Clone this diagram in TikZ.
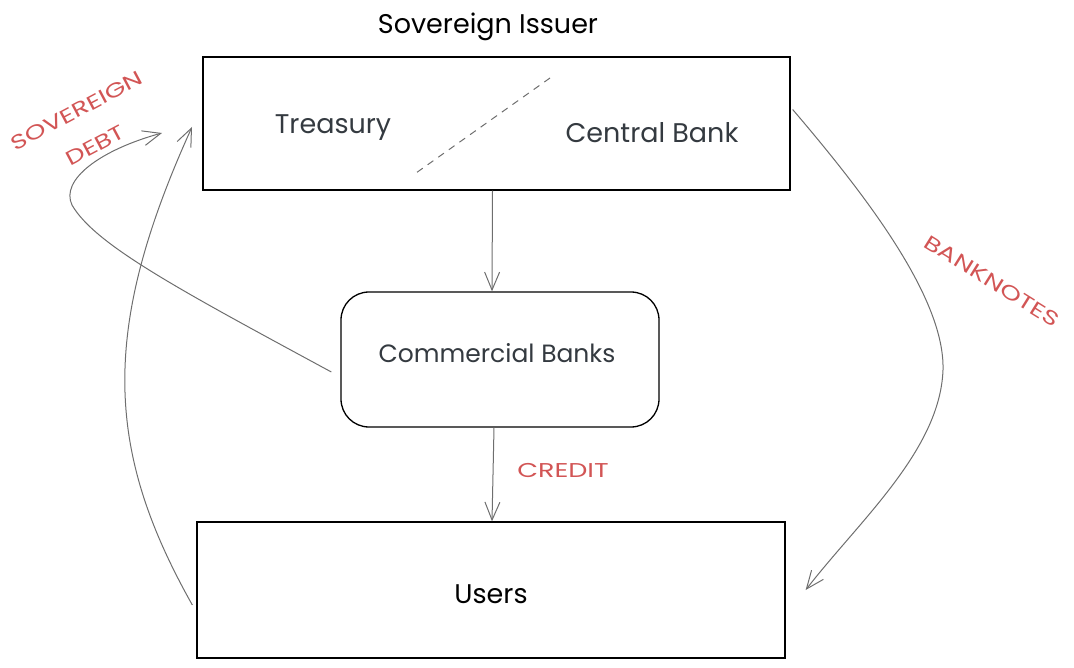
\documentclass[tikz,border=0pt]{standalone}
\usepackage{fontspec}
\setmainfont{Poppins}
\newfontfamily\redfont[FakeStretch=1.35]{Poppins}
\usetikzlibrary{arrows.meta,calc}
\definecolor{inkdark}{HTML}{343A40}
\definecolor{inkred}{HTML}{D25555}
\definecolor{arrgray}{HTML}{6E6E6E}
\tikzset{
  boxsq/.style={draw=black, line width=1.3pt, minimum width=#1, inner sep=0pt},
  lbl/.style={font=\fontsize{27}{30}\selectfont, text=inkdark, inner sep=0pt},
  redlbl/.style={font=\redfont\fontsize{20}{39}\selectfont, text=inkred, inner sep=0pt, align=center},
  conn/.style={draw=arrgray, line width=1pt, -{Straight Barb[length=18pt,width=15pt,line width=1pt]}},
}
\begin{document}
\begin{tikzpicture}[x=1pt,y=-1pt]
\useasboundingbox (0,0) rectangle (1074,668);
% boxes
\node[boxsq=587pt, minimum height=133pt] (top) at (496.5,123.5) {};
\node[boxsq=318pt, minimum height=135pt, rounded corners=28pt] (cb) at (500,359.5) {};
\node[boxsq=588pt, minimum height=136pt] (users) at (491,590) {};
% texts
\node[lbl, text=black] (title) at (488,27) {Sovereign Issuer};
\node[lbl] (treas) at (333,128) {Treasury};
\node[lbl] (central) at (652,133) {Central Bank};
\node[lbl, font=\fontsize{25}{28}\selectfont] (cbt) at (497,353) {Commercial Banks};
\node[lbl, text=black] (ust) at (491,594) {Users};
\node[redlbl] (credit) at (563,470) {CREDIT};
\node[redlbl, rotate=28] (sov) at (86,128) {SOVEREIGN\\DEBT\hspace{12pt}};
\node[redlbl, rotate=-32] (bank) at (992,281) {BANKNOTES};
% dashed divider
\coordinate (d1) at (550,78);
\coordinate (d2) at (416,173);
\draw[arrgray, line width=1pt, dash pattern=on 7pt off 6pt] (d1) -- (d2);
% connectors
\draw[conn] ($(top.south)+(-4,0)$) -- ($(cb.north)+(-8,0)$);
\draw[conn] ($(cb.south)+(-6,0)$) -- ($(users.north)+(1,0)$);
\coordinate (sdEnd) at (162,133);
\draw[conn] ($(cb.west)+(-9,12.5)$) .. controls (180,290) and (95,245) .. (72,205)
      .. controls (60,180) and (100,150) .. (sdEnd);
\coordinate (uEnd) at (192,127);
\draw[conn] ($(users.west)+(-4,15)$) .. controls (105,450) and (100,330) .. (uEnd);
\draw[conn] ($(top.east)+(2,-14)$) .. controls (870,200) and (945,300) .. (943,370)
      .. controls (940,450) and (860,520) .. ($(users.east)+(20,0)$);
\end{tikzpicture}
\end{document}
